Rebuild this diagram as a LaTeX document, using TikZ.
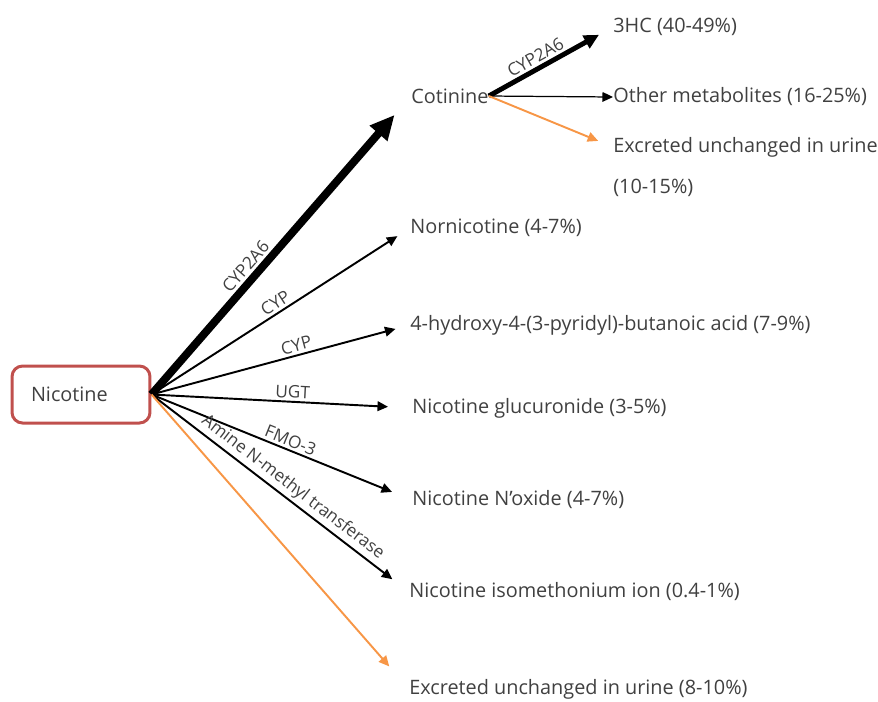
\documentclass[tikz,border=0pt]{standalone}
\usepackage{fontspec}
\setmainfont{Open Sans}
\usetikzlibrary{arrows.meta,positioning}
\definecolor{boxred}{HTML}{C0504D}
\definecolor{urine}{HTML}{F79646}
\definecolor{txt}{HTML}{404040}

\begin{document}
\begin{tikzpicture}[x=0.02cm,y=-0.02cm,
  every node/.style={text=txt,font=\fontsize{11.3}{13}\selectfont},
  metab/.style={anchor=west,inner sep=0pt},
  enz/.style={font=\fontsize{9.8}{11}\selectfont,sloped,above,inner sep=1.5pt},
  route/.style={-{Triangle[length=6pt,width=5.5pt]},line width=1.1pt},
  bigroute/.style={-{Triangle[length=14pt,width=12.5pt]},line width=4.5pt},
  midroute/.style={-{Triangle[length=8.5pt,width=8pt]},line width=2.8pt},
  urineroute/.style={route,draw=urine}]
\useasboundingbox (0,0) rectangle (878,701);

%==================== start ====================
\node[draw=boxred,line width=1.7pt,rounded corners=6pt,
      text width=2cm,align=left,inner xsep=0.38cm,minimum height=1.14cm]
      (nic) at (81,394.5) {Nicotine};

%==================== products of nicotine ====================
\node[metab] (cot) at (411,96)  {Cotinine};
\node[metab] (nor) at (410,228) {Nornicotine (4-7\%)};
\node[metab] (hba) at (410,325) {4-hydroxy-4-(3-pyridyl)-butanoic acid (7-9\%)};
\node[metab] (glu) at (412,408) {Nicotine glucuronide (3-5\%)};
\node[metab] (nox) at (412,500) {Nicotine N’oxide (4-7\%)};
\node[metab] (iso) at (409,592) {Nicotine isomethonium ion (0.4-1\%)};
\node[metab] (exc) at (409,689) {Excreted unchanged in urine (8-10\%)};

%==================== products of cotinine ====================
\node[metab] (hc)   at (613,27)  {3HC (40-49\%)};
\node[metab] (oth)  at (613,97)  {Other metabolites (16-25\%)};
\node[metab] (exb)  at (613,147) {Excreted unchanged in urine};
\node[metab] (exbb) at (613,188) {(10-15\%)};

% nicotine arrows
\draw[bigroute,shorten >=0.5cm] (nic.east) -- (cot.west)
  node[enz,pos=0.4] {CYP2A6};
\draw[route,shorten >=0.3cm] (nic.east) -- (nor.west)
  node[enz,pos=0.5] {CYP};
\draw[route,shorten >=0.3cm] (nic.east) -- (hba.west)
  node[enz,pos=0.57] {CYP};
\draw[route,shorten >=0.48cm] (nic.east) -- (glu.west)
  node[enz,pos=0.54] {UGT};
\draw[route,shorten >=0.43cm] (nic.east) -- (nox.west)
  node[enz,pos=0.52] {FMO-3};
\draw[route,shorten >=0.42cm] (nic.east) -- (iso.west)
  node[enz,pos=0.52] {Amine N-methyl transferase};
\draw[urineroute,shorten >=0.6cm] (nic.east) -- (exc.west);

% cotinine arrows
\draw[midroute,shorten >=0.32cm] (cot.east) -- (hc.west)
  node[enz,pos=0.42] {CYP2A6};
\draw[route,line width=0.7pt] (cot.east) -- (oth.west);
\draw[urineroute,shorten >=0.32cm] (cot.east) -- (exb.west);

\end{tikzpicture}
\end{document}
